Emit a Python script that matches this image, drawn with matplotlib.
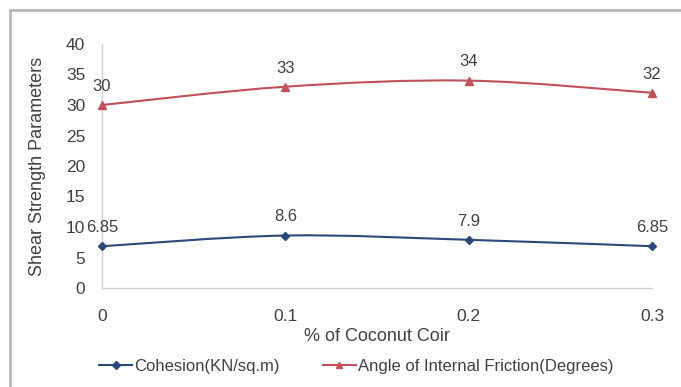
import numpy as np
import matplotlib
matplotlib.use("Agg")
import matplotlib.pyplot as plt
from matplotlib.path import Path
from matplotlib.patches import PathPatch
from matplotlib.lines import Line2D

# data
coir = [0, 0.1, 0.2, 0.3]
cohesion = [6.85, 8.6, 7.9, 6.85]
friction = [30, 33, 34, 32]
cohesion_labels = ["6.85", "8.6", "7.9", "6.85"]
friction_labels = ["30", "33", "34", "32"]

blue = "#2B4A7A"
red = "#C0505A"
txt = "#404040"

plt.rcParams["font.family"] = ["Liberation Sans", "DejaVu Sans"]

fig = plt.figure(figsize=(6.81, 3.87), dpi=100)
ax = fig.add_axes([102 / 681, 1 - 288 / 387, (652 - 102) / 681, (288 - 44) / 387])


def smooth_path(xs, ys, t=1 / 6):
    # excel-like smoothed line drawn as bezier segments
    verts = [(xs[0], ys[0])]
    codes = [Path.MOVETO]
    n = len(xs)
    for i in range(n - 1):
        x0, y0 = xs[max(i - 1, 0)], ys[max(i - 1, 0)]
        x1, y1 = xs[i], ys[i]
        x2, y2 = xs[i + 1], ys[i + 1]
        x3, y3 = xs[min(i + 2, n - 1)], ys[min(i + 2, n - 1)]
        c1 = (x1 + (x2 - x0) * t, y1 + (y2 - y0) * t)
        c2 = (x2 - (x3 - x1) * t, y2 - (y3 - y1) * t)
        verts += [c1, c2, (x2, y2)]
        codes += [Path.CURVE4] * 3
    return Path(verts, codes)


for ys, col, mk, ms, labels in [
    (cohesion, blue, "D", 4.5, cohesion_labels),
    (friction, red, "^", 6, friction_labels),
]:
    ax.add_patch(PathPatch(smooth_path(coir, ys), facecolor="none",
                           edgecolor=col, lw=1.5, zorder=3))
    ax.plot(coir, ys, linestyle="none", marker=mk, ms=ms, color=col, zorder=4,
            clip_on=False)
    for x, y, lab in zip(coir, ys, labels):
        ax.annotate(lab, (x, y), xytext=(0, 8), textcoords="offset points",
                    ha="center", va="bottom", fontsize=12, color=txt)

ax.set_xlim(0, 0.3)
ax.set_ylim(0, 40)
ax.set_xticks(coir)
ax.set_xticklabels(["0", "0.1", "0.2", "0.3"])
ax.set_yticks(range(0, 41, 5))
ax.tick_params(length=0, labelsize=12.5, colors=txt)
ax.tick_params(axis="x", pad=15)
ax.tick_params(axis="y", pad=12)

for s in ["top", "right"]:
    ax.spines[s].set_visible(False)
for s in ["left", "bottom"]:
    ax.spines[s].set_color("#d0d0d0")
    ax.spines[s].set_linewidth(1)

ax.set_xlabel("% of Coconut Coir", fontsize=13, color=txt, labelpad=3)
ax.set_ylabel("Shear Strength Parameters", fontsize=13, color=txt, labelpad=14)

handles = [
    Line2D([], [], color=blue, marker="D", ms=4, lw=1.5),
    Line2D([], [], color=red, marker="^", ms=5, lw=1.5),
]
leg = fig.legend(handles, ["Cohesion(KN/sq.m)", "Angle of Internal Friction(Degrees)"],
                 loc="center", bbox_to_anchor=(356 / 681, 1 - 366 / 387), ncol=2,
                 frameon=False, fontsize=12, handlelength=2.0, handletextpad=0.1,
                 columnspacing=2.6)
for t in leg.get_texts():
    t.set_color(txt)

# chart border
fig.add_artist(Line2D([10 / 681, 10 / 681], [0, 1 - 10 / 387], color="#b8b8b8", lw=2))
fig.add_artist(Line2D([10 / 681, 1], [1 - 10 / 387, 1 - 10 / 387], color="#b8b8b8", lw=2))

fig.savefig("out.png", dpi=100)
